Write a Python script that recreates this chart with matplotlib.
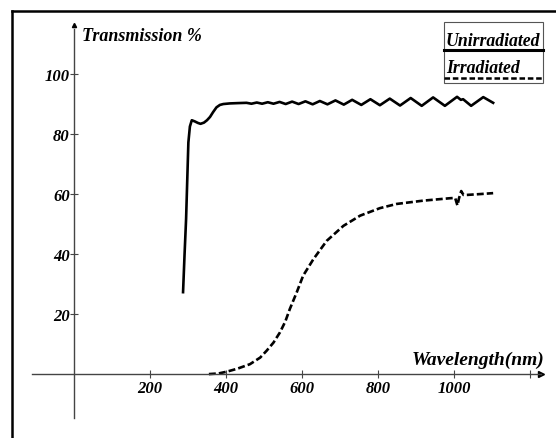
import matplotlib
matplotlib.use('Agg')
import matplotlib.pyplot as plt
from matplotlib.lines import Line2D
from matplotlib.patches import Rectangle

# readings from the reference chart (wavelength nm, transmission %)
wl_unirr = [287, 291, 295, 301, 305, 310, 318, 326, 333, 342, 350, 358, 366, 375, 384, 393, 410, 430,
            454, 467, 481, 495, 510, 525, 541, 557, 574, 591, 609, 628, 647, 667, 688, 710, 732, 756,
            780, 805, 831, 858, 886, 915, 945, 976, 1008, 1018, 1024, 1045, 1077, 1103]
tr_unirr = [27.3, 40.0, 51.7, 77.2, 82.5, 84.6, 84.2, 83.7, 83.4, 83.8, 84.6, 85.7, 87.3, 88.9, 89.7, 90.0, 90.2, 90.3,
            90.4, 90.1, 90.5, 90.1, 90.6, 90.1, 90.7, 90.0, 90.8, 90.0, 90.9, 89.9, 91.0, 89.9, 91.2, 89.8, 91.4, 89.7,
            91.6, 89.6, 91.8, 89.5, 92.0, 89.4, 92.2, 89.4, 92.4, 91.4, 91.6, 89.4, 92.3, 90.4]

wl_irr = [355, 380, 402, 430, 463, 490, 507, 525, 542, 556, 568, 586, 603, 630, 665, 709, 753, 805,
          849, 919, 989, 1003, 1009, 1013, 1019, 1025, 1033, 1070, 1103]
tr_irr = [0.0, 0.2, 0.8, 1.8, 3.3, 5.5, 7.8, 10.5, 13.9, 17.5, 21.7, 27.2, 32.8, 38.3, 44.4, 49.4, 52.8, 55.3,
          56.7, 57.8, 58.6, 58.7, 56.2, 58.5, 61.0, 59.7, 59.7, 60.0, 60.3]

x_ticks = [200, 400, 600, 800, 1000, 1200]
x_labels = ['200', '400', '600', '800', '1000', '']
y_ticks = [20, 40, 60, 80, 100]
y_labels = ['20', '40', '60', '80', '100']

plt.rcParams['lines.scale_dashes'] = False
font = dict(family='Liberation Serif', weight='bold', style='italic')

fig = plt.figure(figsize=(5.56, 4.39), dpi=100)
ax = fig.add_axes([0, 0, 1, 1])
ax.set_xlim(-194.7, 1268.4)
ax.set_ylim(-21.3, 125)
ax.patch.set_visible(False)

ax.plot(wl_unirr, tr_unirr, color='black', lw=1.9, solid_joinstyle='round')
ax.plot(wl_irr, tr_irr, color='black', lw=1.9, dashes=(5, 2.2))

# axes through the origin with arrows
axis_col = '#444444'
for s in ['top', 'right']:
    ax.spines[s].set_visible(False)
ax.spines['left'].set_position(('data', 0))
ax.spines['bottom'].set_position(('data', 0))
ax.spines['left'].set_bounds(-14.7, 115)
ax.spines['bottom'].set_bounds(-110, 1230)
for s in ['left', 'bottom']:
    ax.spines[s].set_color(axis_col)
    ax.spines[s].set_linewidth(1.0)
ax.plot([1230], [0], marker='>', color='black', ms=4, clip_on=False)
ax.plot([0], [116.5], marker='^', color='black', ms=3, clip_on=False)

ax.set_xticks(x_ticks)
ax.set_xticklabels(x_labels, fontsize=12, **font)
ax.set_yticks(y_ticks)
ax.set_yticklabels(y_labels, fontsize=12, **font)
ax.tick_params(axis='both', direction='inout', length=6, width=0.8, color=axis_col)
ax.tick_params(axis='x', pad=1)
ax.tick_params(axis='y', pad=0)

ax.text(20, 113, 'Transmission %', fontsize=13, va='center', ha='left', **font)
ax.text(1237, 5, 'Wavelength(nm)', fontsize=14, va='center', ha='right', **font)

# frame lines (left and top only)
fig.add_artist(Line2D([12 / 556, 12 / 556], [0, 1 - 12 / 439], color='black', lw=1.8))
fig.add_artist(Line2D([12 / 556, 1], [1 - 12 / 439, 1 - 12 / 439], color='black', lw=1.8))

# legend drawn by hand: text with its line sample underneath
W, H = 556, 439
fig.add_artist(Rectangle((444 / W, 1 - 84 / H), 99 / W, 61 / H, fill=False, ec='#555555', lw=0.8))
fig.text(446 / W, 1 - 46 / H, 'Unirradiated', fontsize=12.8, ha='left', va='baseline', **font)
fig.add_artist(Line2D([444 / W, 543 / W], [1 - 51 / H, 1 - 51 / H], color='black', lw=2.2))
fig.text(446 / W, 1 - 73 / H, 'Irradiated', fontsize=12.8, ha='left', va='baseline', **font)
fig.add_artist(Line2D([444 / W, 543 / W], [1 - 79 / H, 1 - 79 / H], color='black', lw=1.8, dashes=(4, 2)))

fig.savefig('out.png', dpi=100)
